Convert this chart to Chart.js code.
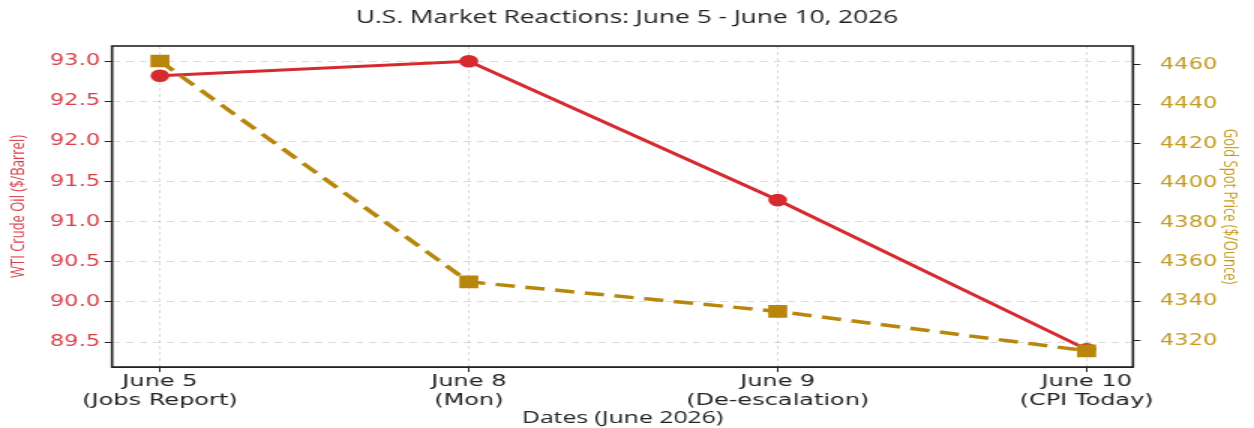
<!DOCTYPE html>
<html>
<head>
<meta charset="utf-8">
<script src="https://cdn.jsdelivr.net/npm/chart.js@4.4.1/dist/chart.umd.min.js"></script>
<style>
    body { margin: 0; background: #fff; overflow: hidden; }
    /* the reference picture is stretched sideways, so draw narrow and widen it */
    #wrap { width: 836px; height: 428px; transform: scaleX(1.5); transform-origin: 0 0; }
</style>
</head>
<body>
<div id="wrap"><canvas id="marketChart"></canvas></div>
<script>
// Dates on the x axis (two lines each)
const dateLabels = [
    ['June 5', '(Jobs Report)'],
    ['June 8', '(Mon)'],
    ['June 9', '(De-escalation)'],
    ['June 10', '(CPI Today)']
];
// WTI crude, $/barrel
const oilPrices = [92.82, 93.0, 91.27, 89.41];
// Gold spot, $/ounce
const goldPrices = [4462, 4350, 4335, 4315];

// tick values
const oilTicks = [89.5, 90.0, 90.5, 91.0, 91.5, 92.0, 92.5, 93.0];
const goldTicks = [4320, 4340, 4360, 4380, 4400, 4420, 4440, 4460];

const RED = '#d62a2f';
const GOLD = '#b8860b';
const TICK_FONT = { family: 'DejaVu Sans', size: 15 };

const setTicks = values => axis => {
    axis.ticks = values.map(v => ({ value: v }));
};

// chart area frame (black box round the plot)
const frameBox = {
    id: 'frameBox',
    afterDraw(chart) {
        const a = chart.chartArea;
        const ctx = chart.ctx;
        ctx.save();
        ctx.strokeStyle = '#222';
        ctx.lineWidth = 1.6;
        ctx.strokeRect(a.left, a.top, a.right - a.left, a.bottom - a.top);
        ctx.restore();
    }
};

new Chart(document.getElementById('marketChart').getContext('2d'), {
    type: 'line',
    data: {
        datasets: [
            {
                label: 'WTI Crude Oil',
                data: oilPrices.map((v, i) => ({ x: i, y: v })),
                yAxisID: 'y',
                borderColor: RED,
                backgroundColor: RED,
                borderWidth: 3,
                pointStyle: 'circle',
                pointRadius: 4.8,
                order: 2
            },
            {
                label: 'Gold Spot Price',
                data: goldPrices.map((v, i) => ({ x: i, y: v })),
                yAxisID: 'y2',
                borderColor: GOLD,
                backgroundColor: GOLD,
                borderWidth: 3.5,
                borderDash: [13, 7],
                pointStyle: 'rect',
                pointRadius: 6.5,
                order: 1
            }
        ]
    },
    options: {
        responsive: true,
        maintainAspectRatio: false,
        animation: false,
        layout: { padding: 0 },
        plugins: {
            legend: { display: false },
            tooltip: { enabled: false },
            title: {
                display: true,
                text: 'U.S. Market Reactions: June 5 - June 10, 2026',
                color: '#222',
                font: { family: 'Open Sans', size: 17.5, weight: 'normal' },
                padding: { top: 8, bottom: 17 }
            }
        },
        scales: {
            x: {
                type: 'linear',
                min: -0.155,
                max: 3.15,
                afterFit: axis => { axis.height = 61; },
                afterBuildTicks: setTicks(dateLabels.map((d, i) => i)),
                ticks: {
                    autoSkip: false,
                    maxRotation: 0,
                    padding: 1,
                    color: '#222',
                    font: { family: 'DejaVu Sans', size: 16, lineHeight: 1.15 },
                    callback: value => dateLabels[value] || ''
                },
                grid: { color: 'rgba(0,0,0,0.14)', tickColor: '#222', tickLength: 5 },
                border: { display: true, color: '#222', dash: [3, 3] },
                title: {
                    display: true,
                    text: 'Dates (June 2026)',
                    color: '#222',
                    font: { family: 'Open Sans', size: 16.5 },
                    padding: { top: 0, bottom: 0 }
                }
            },
            y: {
                position: 'left',
                min: 89.19,
                max: 93.19,
                afterFit: axis => { axis.width = 74.7; },
                afterBuildTicks: setTicks(oilTicks),
                ticks: {
                    padding: 3,
                    color: '#d9404a',
                    font: TICK_FONT,
                    callback: value => value.toFixed(1)
                },
                grid: { color: 'rgba(0,0,0,0.14)', tickColor: '#222', tickLength: 5 },
                border: { display: true, color: '#222', dash: [5, 4] },
                title: {
                    display: true,
                    text: 'WTI Crude Oil ($/Barrel)',
                    color: '#d9404a',
                    font: { family: 'Open Sans', size: 13 },
                    padding: { top: 4, bottom: 0 }
                }
            },
            y2: {
                position: 'right',
                min: 4306.8,
                max: 4469.6,
                afterFit: axis => { axis.width = 80.7; },
                afterBuildTicks: setTicks(goldTicks),
                ticks: {
                    padding: 13,
                    color: '#c49a1e',
                    font: TICK_FONT,
                    callback: value => String(value)
                },
                grid: { drawOnChartArea: false, tickColor: '#222', tickLength: 5 },
                border: { display: true, color: '#222' },
                title: {
                    display: true,
                    text: 'Gold Spot Price ($/Ounce)',
                    color: '#c49a1e',
                    font: { family: 'Open Sans', size: 13 },
                    padding: { top: 8, bottom: 0 }
                }
            }
        }
    },
    plugins: [frameBox]
});
</script>
</body>
</html>
